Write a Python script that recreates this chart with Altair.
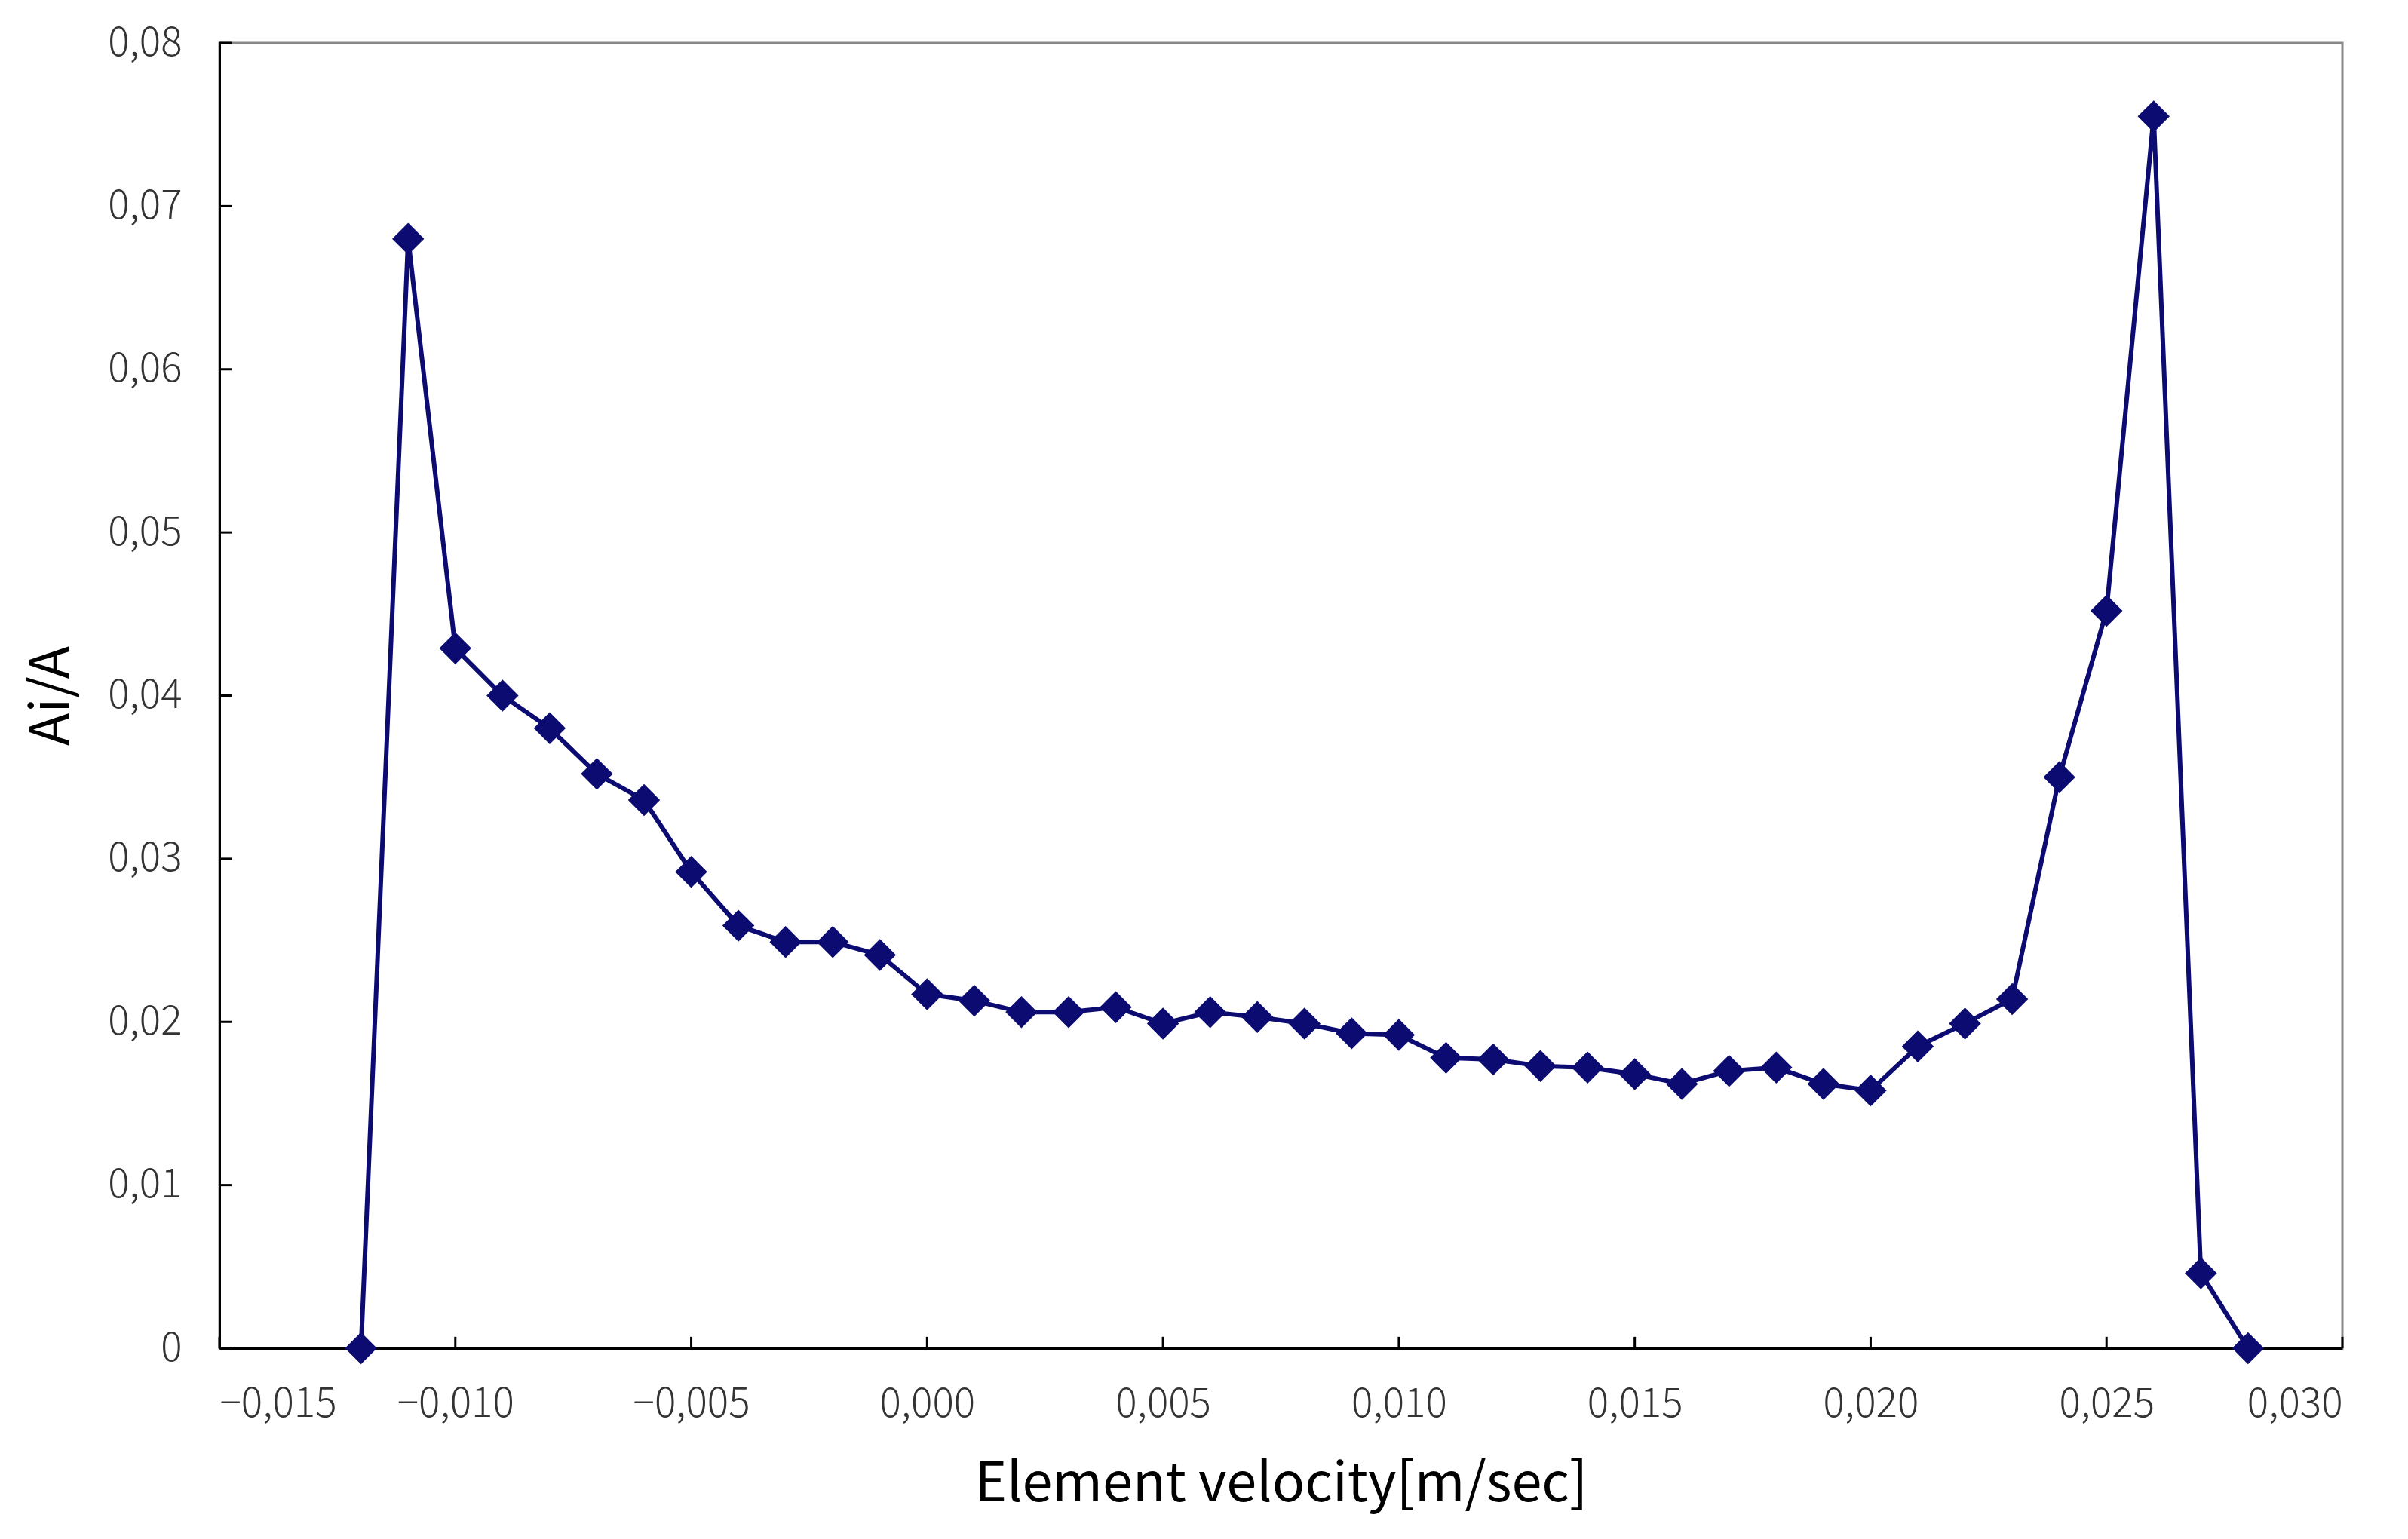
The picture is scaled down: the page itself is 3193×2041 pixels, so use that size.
import altair as alt
import pandas as pd

velocity = [-0.012, -0.011, -0.010, -0.009, -0.008, -0.007, -0.006, -0.005, -0.004, -0.003,
            -0.002, -0.001, 0.000, 0.001, 0.002, 0.003, 0.004, 0.005, 0.006, 0.007,
            0.008, 0.009, 0.010, 0.011, 0.012, 0.013, 0.014, 0.015, 0.016, 0.017,
            0.018, 0.019, 0.020, 0.021, 0.022, 0.023, 0.024, 0.025, 0.026, 0.027, 0.028]
ratio = [0.0, 0.0680, 0.0429, 0.0400, 0.0380, 0.0352, 0.0336, 0.0292, 0.0259, 0.0249,
         0.0249, 0.0241, 0.0217, 0.0213, 0.0206, 0.0206, 0.0209, 0.0199, 0.0206, 0.0203,
         0.0199, 0.0193, 0.0192, 0.0178, 0.0177, 0.0173, 0.0172, 0.0168, 0.0162, 0.0170,
         0.0172, 0.0162, 0.0158, 0.0185, 0.0199, 0.0214, 0.0350, 0.0452, 0.0755, 0.0046, 0.0]

x_ticks = [-0.015, -0.010, -0.005, 0.000, 0.005, 0.010, 0.015, 0.020, 0.025, 0.030]
y_ticks = [0.0, 0.01, 0.02, 0.03, 0.04, 0.05, 0.06, 0.07, 0.08]

X_MIN, X_MAX = -0.015, 0.030
Y_MIN, Y_MAX = 0.0, 0.08

df = pd.DataFrame({"v": velocity, "r": ratio})
xt = pd.DataFrame({"v": x_ticks, "y0": [0.0] * len(x_ticks), "y1": [0.0007] * len(x_ticks)})
yt = pd.DataFrame({"r": y_ticks, "x0": [X_MIN] * len(y_ticks), "x1": [X_MIN + 0.00026] * len(y_ticks)})

FONT = "Noto Sans CJK KR"
COLOR = "#0b0b72"

xscale = alt.Scale(domain=[X_MIN, X_MAX], nice=False, zero=False)
yscale = alt.Scale(domain=[Y_MIN, Y_MAX], nice=False)

x_axis = alt.Axis(
    values=x_ticks,
    labelExpr="replace(format(datum.value, '.3f'), '.', ',')",
    title="Element velocity[m/sec]",
    ticks=False,
    grid=False,
    domainColor="#000000",
    domainWidth=3,
    labelFont=FONT, labelFontSize=53, labelFontWeight=300, labelColor="#333333", labelPadding=48,
    titleFont=FONT, titleFontSize=72, titleFontWeight="normal", titleColor="#000000",
    titlePadding=44,
)
y_axis = alt.Axis(
    values=y_ticks,
    labelExpr="datum.value == 0 ? '0' : replace(format(datum.value, '.2f'), '.', ',')",
    title="Ai/A",
    ticks=False,
    grid=False,
    domainColor="#000000",
    domainWidth=3,
    labelFont=FONT, labelFontSize=53, labelFontWeight=300, labelColor="#333333", labelPadding=50,
    titleFont=FONT, titleFontSize=72, titleFontWeight="normal", titleColor="#000000",
    titlePadding=36,
)

line = alt.Chart(df).mark_line(color=COLOR, strokeWidth=6).encode(
    x=alt.X("v:Q", scale=xscale, axis=x_axis),
    y=alt.Y("r:Q", scale=yscale, axis=y_axis),
)
points = alt.Chart(df).mark_point(shape="diamond", filled=True, size=1800, color=COLOR, opacity=1).encode(
    x=alt.X("v:Q", scale=xscale),
    y=alt.Y("r:Q", scale=yscale),
)
xtick_rules = alt.Chart(xt).mark_rule(color="#000000", strokeWidth=3).encode(
    x=alt.X("v:Q", scale=xscale),
    y=alt.Y("y0:Q", scale=yscale),
    y2="y1:Q",
)
ytick_rules = alt.Chart(yt).mark_rule(color="#000000", strokeWidth=3).encode(
    x=alt.X("x0:Q", scale=xscale),
    x2="x1:Q",
    y=alt.Y("r:Q", scale=yscale),
)

chart = alt.layer(xtick_rules, ytick_rules, line, points).properties(
    width=2815,
    height=1731,
    autosize=alt.AutoSizeParams(type="none"),
    padding={"left": 283, "top": 49, "right": 70, "bottom": 245},
    background="#ffffff",
).configure_view(stroke="#888888", strokeWidth=3)

chart.save("out.html", embed_options={"renderer": "svg", "actions": False})
